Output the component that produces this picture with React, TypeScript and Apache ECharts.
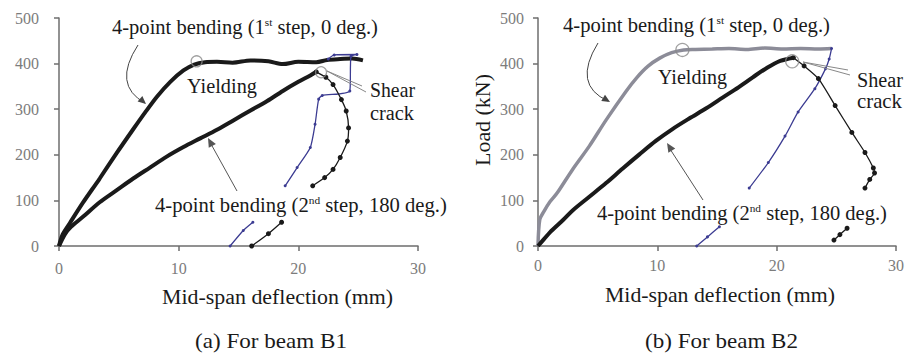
import React, { useEffect, useRef } from "react";
import * as echarts from "echarts";

// ---------- data (x: mid-span deflection mm, y: load kN) ----------
const xTicks = [0, 10, 20, 30];
const yTicks = [0, 100, 200, 300, 400, 500];

// Beam B1
const b1Step1: [number, number][] = [
  [0, 0], [0.3, 25], [0.9, 50], [2, 95], [3.4, 148], [4.8, 203], [6.2, 256], [7.2, 293],
  [8.2, 328], [9.3, 360], [10.4, 385], [11.3, 398], [12.2, 403], [13.2, 404], [14.5, 402], [16, 407],
  [17.5, 405], [18.7, 399], [20, 404], [21.5, 403], [22.4, 408], [23.5, 410], [24.5, 411], [25.4, 407],
];
const b1Step1Unload: ([number, number] | null)[] = [
  [22.5, 410], [23, 419], [24.9, 420], [24.4, 416], [24.3, 340], [22, 330], [21.7, 322],
  [21.4, 267], [21.0, 216], [19.9, 172], [18.9, 132], null, [16.2, 52], [15.4, 34], [14.3, 0],
];
const b1Step2: [number, number][] = [
  [0, 0], [0.5, 26], [1, 42], [2, 64], [3.4, 96], [4.8, 122], [6.2, 148], [7.6, 172], [9, 196],
  [10.4, 217], [11.8, 236], [13.2, 255], [14.6, 276], [16, 297], [17.4, 318], [18.7, 340],
  [20, 360], [21, 374], [21.5, 382],
];
const b1Step2Post: ([number, number] | null)[] = [
  [21.5, 382], [22.3, 370], [22.9, 354], [23.6, 321], [24.0, 296], [24.2, 259], [24.1, 230],
  [23.5, 194], [22.9, 168], [22.2, 150], [21.2, 132], null, [18.6, 52], [17.5, 27], [16.1, 0],
];
const b1Marks: [number, number][] = [[11.5, 405], [21.9, 381]];

// Beam B2
const b2Step1: [number, number][] = [
  [0, 0], [0.15, 58], [0.5, 76], [1.0, 97], [1.6, 116], [2.9, 168], [4.3, 219], [5.7, 276],
  [7.4, 340], [8.3, 370], [9.2, 394], [10.2, 412], [11.2, 424], [12.2, 430], [13.2, 431],
  [14.6, 432], [16, 433], [17.5, 431], [19, 434], [20.5, 432], [22, 433], [23.5, 432], [24.6, 433],
];
const b2Step1Unload: ([number, number] | null)[] = [
  [24.6, 433], [24.4, 410], [24.1, 389], [23.2, 345], [21.8, 294], [20.7, 241], [19.3, 183],
  [17.7, 127], null, [15.2, 42], [14.2, 20], [13.3, 0],
];
const b2Step2: [number, number][] = [
  [0, 0], [0.5, 15], [1, 30], [2.1, 57], [2.9, 78], [4.3, 108], [5.7, 138], [7.1, 170], [8.5, 201],
  [9.9, 231], [11.3, 257], [12.7, 280], [14.1, 302], [15.5, 326], [16.8, 348], [18.0, 370],
  [19.2, 391], [20.3, 406], [21.4, 413],
];
const b2Step2Post: ([number, number] | null)[] = [
  [21.4, 413], [22.3, 395], [23.5, 367], [24.9, 308], [26.3, 249], [27.4, 205], [28.1, 171],
  [28.2, 160], [27.8, 146], [27.4, 127], null, [25.9, 39], [25.3, 25], [24.8, 13],
];
const b2Marks: [number, number][] = [[12.1, 430], [21.3, 405]];

const stepOneLabel = "4-point bending (1{sup|st} step, 0 deg.)";
const stepTwoLabel = "4-point bending (2{sup|nd} step, 180 deg.)";

// ---------- styling ----------
const FONT = "Liberation Serif";
const INK = "#1a1a1a";
const BLUE = "#3c3c92";
const AXIS = "#6e6e6e";
const FS = 20;
const SUP = 11;

let measureCtx: CanvasRenderingContext2D | null = null;
function measure(text: string, size: number): number {
  if (!measureCtx) measureCtx = document.createElement("canvas").getContext("2d");
  if (!measureCtx) return text.length * size * 0.5;
  let total = 0;
  const parts = text.split(/(\{sup\|[^}]*\})/);
  for (const p of parts) {
    if (!p) continue;
    const m = p.match(/^\{sup\|([^}]*)\}$/);
    const s = m ? SUP : size;
    measureCtx.font = `${s}px ${FONT}`;
    total += measureCtx.measureText(m ? m[1] : p).width;
  }
  return total;
}

function arrowHead(tx: number, ty: number, fx: number, fy: number, size = 8) {
  const a = Math.atan2(ty - fy, tx - fx);
  const w = size * 0.45;
  const bx = tx - size * Math.cos(a);
  const by = ty - size * Math.sin(a);
  return [
    [tx, ty],
    [bx + w * Math.sin(a), by - w * Math.cos(a)],
    [bx - w * Math.sin(a), by + w * Math.cos(a)],
  ];
}

// place text so it spans [x0, x1] horizontally, centred vertically at y
function span(text: string, x0: number, x1: number, y: number, size = FS) {
  const natural = measure(text, size);
  return {
    type: "text",
    z: 10,
    x: x0,
    y,
    scaleX: (x1 - x0) / natural,
    style: {
      text,
      x: 0,
      y: 0,
      fontFamily: FONT,
      fontSize: size,
      fill: INK,
      textVerticalAlign: "middle",
      rich: { sup: { fontSize: SUP, verticalAlign: "top", fontFamily: FONT, fill: INK } },
    },
  };
}

export default function App() {
  const ref = useRef<HTMLDivElement>(null);
  useEffect(() => {
    if (!ref.current) return;
    const chart = echarts.init(ref.current, undefined, { renderer: "svg" });

    const axisCommon = (gi: number, isX: boolean, labelMargin: number) => ({
      type: "value",
      gridIndex: gi,
      min: 0,
      max: isX ? 30 : 500,
      interval: isX ? 10 : 100,
      axisLine: { show: true, lineStyle: { color: AXIS, width: 1.5 } },
      axisTick: { show: true, length: 5, lineStyle: { color: AXIS, width: 1.5 } },
      splitLine: { show: false },
      axisLabel: {
        color: "#7c7c7c",
        fontFamily: FONT,
        fontSize: 16,
        margin: labelMargin,
        customValues: isX ? xTicks : yTicks,
      },
    });

    const thick = (data: any, xi: number, color = INK, width = 4) => ({
      type: "line",
      xAxisIndex: xi,
      yAxisIndex: xi,
      data,
      showSymbol: false,
      smooth: 0.3,
      lineStyle: { color, width },
      z: 3,
    });
    const thin = (data: any, xi: number, color: string, sym: number) => ({
      type: "line",
      xAxisIndex: xi,
      yAxisIndex: xi,
      data,
      connectNulls: false,
      smooth: 0.2,
      symbol: "circle",
      symbolSize: sym,
      showSymbol: true,
      itemStyle: { color },
      lineStyle: { color, width: 1.3 },
      z: 4,
    });
    const marks = (data: any, xi: number, size: number) => ({
      type: "scatter",
      xAxisIndex: xi,
      yAxisIndex: xi,
      data,
      symbol: "circle",
      symbolSize: size,
      itemStyle: { color: "rgba(0,0,0,0)", borderColor: "#8a8a8a", borderWidth: 1.3 },
      z: 6,
    });

    const loadNatural = measure("Load (kN)", FS);

    const graphic: any[] = [
      // Left panel texts
      span(stepOneLabel, 112, 378, 27),
      span("Yielding", 187, 257, 86),
      span("Shear", 370, 415, 90),
      span("crack", 370, 414, 113),
      span(stepTwoLabel, 155, 447, 205),
      span("Mid-span deflection (mm)", 162, 393, 297),
      span("(a) For beam B1", 195, 347, 342),
      // Right panel texts
      span(stepOneLabel, 563, 830, 25),
      span("Yielding", 658, 727, 77),
      span("Shear", 857, 903, 80),
      span("crack", 857, 902, 101),
      span(stepTwoLabel, 597, 887, 213),
      span("Mid-span deflection (mm)", 605, 835, 295),
      span("(b) For beam B2", 645, 798, 342),
      {
        type: "text",
        z: 10,
        x: 483,
        y: 120,
        rotation: Math.PI / 2,
        scaleX: 92 / loadNatural,
        style: {
          text: "Load (kN)",
          x: 0,
          y: 0,
          fontFamily: FONT,
          fontSize: FS,
          fill: INK,
          textAlign: "center",
          textVerticalAlign: "middle",
        },
      },
      // Left arrows
      {
        type: "bezierCurve",
        z: 9,
        shape: { x1: 138, y1: 45, cpx1: 112, cpy1: 85, x2: 145, y2: 103 },
        style: { stroke: "#444", lineWidth: 1, fill: null },
      },
      { type: "polygon", z: 9, shape: { points: arrowHead(146, 104, 138, 97, 8) }, style: { fill: "#444" } },
      {
        type: "line",
        z: 9,
        shape: { x1: 237, y1: 191, x2: 211, y2: 144 },
        style: { stroke: "#555", lineWidth: 1 },
      },
      { type: "polygon", z: 9, shape: { points: arrowHead(208, 138, 237, 191, 9) }, style: { fill: "#555" } },
      {
        type: "polyline",
        z: 9,
        shape: { points: [[366, 92], [327, 71], [362, 86]] },
        style: { stroke: "#888", lineWidth: 1, fill: null },
      },
      // Right arrows
      {
        type: "bezierCurve",
        z: 9,
        shape: { x1: 598, y1: 43, cpx1: 572, cpy1: 85, x2: 608, y2: 101 },
        style: { stroke: "#444", lineWidth: 1, fill: null },
      },
      { type: "polygon", z: 9, shape: { points: arrowHead(610, 102, 600, 96, 8) }, style: { fill: "#444" } },
      {
        type: "line",
        z: 9,
        shape: { x1: 703, y1: 200, x2: 670, y2: 149 },
        style: { stroke: "#555", lineWidth: 1 },
      },
      { type: "polygon", z: 9, shape: { points: arrowHead(667, 143, 703, 200, 9) }, style: { fill: "#555" } },
      {
        type: "polyline",
        z: 9,
        shape: { points: [[850, 75], [803, 62], [848, 70]] },
        style: { stroke: "#888", lineWidth: 1, fill: null },
      },
    ];

    chart.setOption({
      animation: false,
      backgroundColor: "#ffffff",
      textStyle: { fontFamily: FONT },
      grid: [
        { left: 59, top: 18, width: 359, height: 228 },
        { left: 538, top: 18, width: 360, height: 228 },
      ],
      xAxis: [axisCommon(0, true, 14), axisCommon(1, true, 11)],
      yAxis: [axisCommon(0, false, 20), axisCommon(1, false, 14)],
      series: [
        thick(b1Step1, 0),
        thick(b1Step2, 0),
        thin(b1Step1Unload, 0, BLUE, 3),
        thin(b1Step2Post, 0, INK, 5),
        marks(b1Marks, 0, 11),
        thick(b2Step1, 1, "#8c8c98", 3.5),
        thick(b2Step2, 1),
        thin(b2Step1Unload, 1, BLUE, 3),
        thin(b2Step2Post, 1, INK, 5),
        marks(b2Marks, 1, 13),
      ],
      graphic,
    });
    return () => chart.dispose();
  }, []);
  return (
    <div
      ref={ref}
      style={{ position: "fixed", left: 0, top: 0, width: 907, height: 356, background: "#fff" }}
    />
  );
}
